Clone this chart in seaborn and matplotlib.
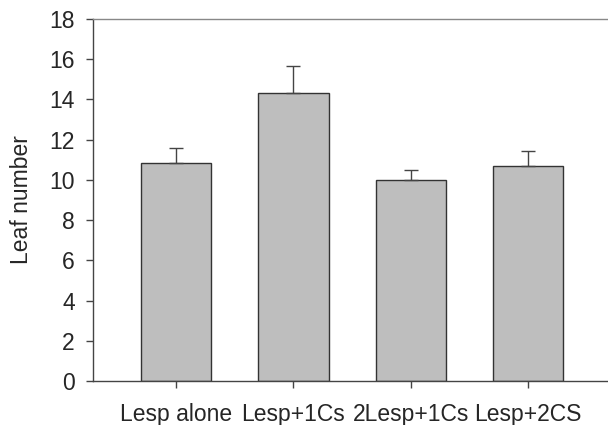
import numpy as np
import pandas as pd
import matplotlib
matplotlib.use("Agg")
import matplotlib.pyplot as plt
import seaborn as sns

# 처리 그룹별 잎 개수 (평균 + 표준오차)
groups = ["Lesp alone", "Lesp+1Cs", "2Lesp+1Cs", "Lesp+2CS"]
leaf_mean = [10.85, 14.33, 10.0, 10.71]
leaf_err = [0.75, 1.35, 0.5, 0.75]

df = pd.DataFrame({"group": groups, "leaf": leaf_mean})

sns.set_style("white")
plt.rcParams['font.family'] = ['Liberation Sans', 'DejaVu Sans']

fig = plt.figure(figsize=(6.08, 4.25), dpi=100)
ax = fig.add_axes([93 / 608, 1 - 381 / 425, 1 - 93 / 608, (381 - 19) / 425])

sns.barplot(data=df, x="group", y="leaf", order=groups, color="#bebebe",
            edgecolor="#333333", linewidth=1.0, width=0.6, errorbar=None,
            saturation=1, ax=ax)
for p in ax.patches:
    p.set_facecolor("#bebebe")

x = np.arange(len(groups))
ax.errorbar(x, leaf_mean, yerr=[np.zeros(len(groups)), leaf_err], fmt="none",
            ecolor="#444444", elinewidth=1.0, capsize=5, capthick=1.0)

ax.set_ylim(0, 18)
ax.set_yticks(range(0, 19, 2))
ax.set_xlim(-0.707, 3.68)
ax.set_xlabel("")
ax.set_ylabel("Leaf number", fontsize=16.5, labelpad=12)

for side in ["left", "bottom", "top"]:
    ax.spines[side].set_visible(True)
    ax.spines[side].set_color("#444444")
    ax.spines[side].set_linewidth(1.0)
ax.spines["top"].set_color("#888888")
ax.spines["right"].set_visible(False)

ax.tick_params(axis="both", which="major", direction="out", length=5,
               width=1.0, color="#444444", labelsize=16.5, bottom=True, left=True)
ax.tick_params(axis="y", pad=8)
ax.tick_params(axis="x", pad=11)

fig.savefig("out.png", dpi=100)
